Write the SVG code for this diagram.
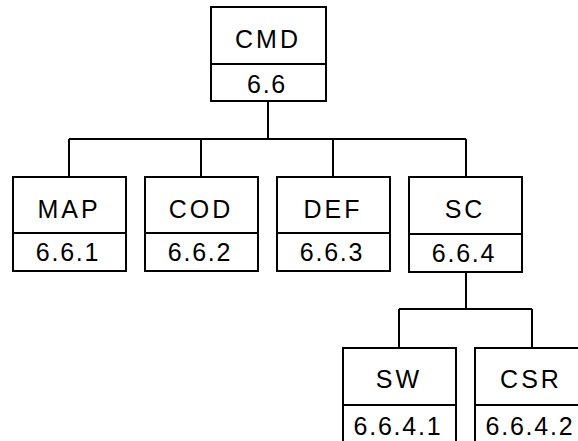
<svg xmlns="http://www.w3.org/2000/svg" width="578" height="441" viewBox="0 0 578 441">
<style>
.box{fill:#fff;stroke:#000;stroke-width:2}
.ln{fill:none;stroke:#000;stroke-width:2}
.nm{font-family:"Liberation Sans",Arial,sans-serif;font-size:25px;letter-spacing:3px;text-anchor:middle;fill:#000}
.nu{font-family:"Liberation Sans",Arial,sans-serif;font-size:25px;letter-spacing:1.8px;text-anchor:middle;fill:#000}
</style>
<rect width="578" height="441" fill="#fff"/>
<g id="connectors" class="ln">
<path d="M268 101V139M69 139H466M69 139V177M201 139V177M333 139V177M466 139V177"/>
<path d="M466 272V309M399 309H532M399 309V348M532 309V348"/>
</g>
<g id="CMD">
<rect class="box" x="211" y="7" width="115" height="94"/>
<line class="ln" x1="211" y1="64" x2="326" y2="64"/>
<text class="nm" x="268" y="48">CMD</text>
<text class="nu" x="267" y="93">6.6</text>
</g>
<g id="MAP">
<rect class="box" x="13" y="177" width="113" height="94"/>
<line class="ln" x1="13" y1="233" x2="126" y2="233"/>
<text class="nm" x="69" y="218">MAP</text>
<text class="nu" x="68" y="261">6.6.1</text>
</g>
<g id="COD">
<rect class="box" x="145" y="177" width="113" height="94"/>
<line class="ln" x1="145" y1="233" x2="258" y2="233"/>
<text class="nm" x="201" y="218">COD</text>
<text class="nu" x="200" y="261">6.6.2</text>
</g>
<g id="DEF">
<rect class="box" x="277" y="177" width="113" height="94"/>
<line class="ln" x1="277" y1="233" x2="390" y2="233"/>
<text class="nm" x="333" y="218">DEF</text>
<text class="nu" x="332" y="261">6.6.3</text>
</g>
<g id="SC">
<rect class="box" x="409" y="177" width="113" height="95"/>
<line class="ln" x1="409" y1="234" x2="522" y2="234"/>
<text class="nm" x="465" y="218">SC</text>
<text class="nu" x="464" y="262">6.6.4</text>
</g>
<g id="SW">
<rect class="box" x="343" y="348" width="113" height="120"/>
<line class="ln" x1="343" y1="405" x2="456" y2="405"/>
<text class="nm" x="399" y="388">SW</text>
<text class="nu" x="398" y="435">6.6.4.1</text>
</g>
<g id="CSR">
<rect class="box" x="475" y="348" width="113" height="120"/>
<line class="ln" x1="475" y1="405" x2="588" y2="405"/>
<text class="nm" x="531" y="388">CSR</text>
<text class="nu" x="530" y="435">6.6.4.2</text>
</g>
</svg>
